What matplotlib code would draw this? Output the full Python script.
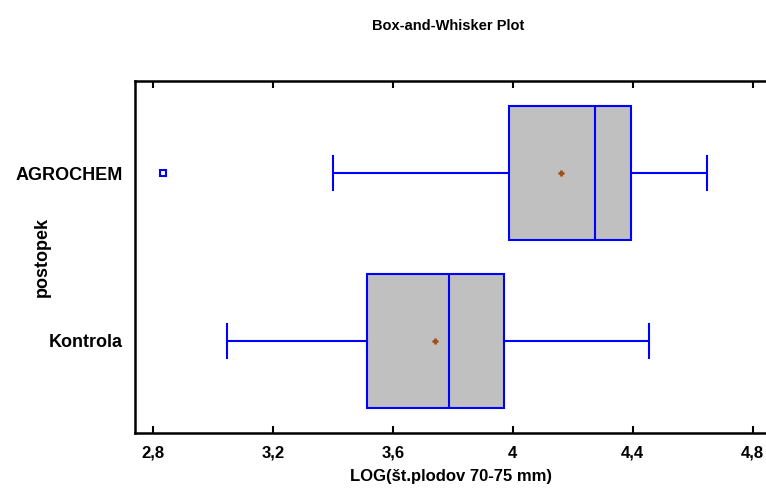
import matplotlib
matplotlib.use("Agg")
import matplotlib.pyplot as plt

plt.rcParams['font.family'] = ['Liberation Sans', 'DejaVu Sans']

# data (bottom to top)
groups = ["Kontrola", "AGROCHEM"]
whislo = [3.047, 3.400]
q1 = [3.513, 3.988]
med = [3.788, 4.274]
q3 = [3.971, 4.394]
whishi = [4.453, 4.647]
means = [3.741, 4.160]
outliers = [[], [2.834]]
xticks = [2.8, 3.2, 3.6, 4.0, 4.4, 4.8]
xtick_labels = ["2,8", "3,2", "3,6", "4", "4,4", "4,8"]

stats = []
for i, g in enumerate(groups):
    stats.append({"label": g, "whislo": whislo[i], "q1": q1[i], "med": med[i],
                  "q3": q3[i], "whishi": whishi[i], "mean": means[i],
                  "fliers": outliers[i]})

fig = plt.figure(figsize=(7.66, 4.92), dpi=100)
ax = fig.add_axes([135 / 766, 59 / 492, 1 - 135 / 766, 352 / 492])

blue = "#0000ff"
lw = 1.5
ax.bxp(stats, positions=[1, 2], widths=0.8, orientation="horizontal",
       patch_artist=True, showmeans=True, showfliers=True,
       boxprops=dict(facecolor="#c0c0c0", edgecolor=blue, linewidth=lw),
       medianprops=dict(color=blue, linewidth=lw),
       whiskerprops=dict(color=blue, linewidth=lw),
       capprops=dict(color=blue, linewidth=lw),
       capwidths=0.2,
       meanprops=dict(marker="+", markeredgecolor="#a0501e", markersize=5,
                      markeredgewidth=2),
       flierprops=dict(marker="s", markerfacecolor="white",
                       markeredgecolor=blue, markersize=4, markeredgewidth=1.5))

ax.set_xlim(2.741, 4.844)
ax.set_ylim(0.45, 2.55)
ax.set_xticks(xticks)
ax.set_xticklabels(xtick_labels, fontsize=12, fontweight="bold")
ax.set_yticks([1, 2])
ax.set_yticklabels(groups, fontsize=13, fontweight="bold")
ax.tick_params(axis="x", direction="in", top=True, length=5, width=1.5, pad=9)
ax.tick_params(axis="y", length=0, pad=9)

for s in ["left", "top", "bottom"]:
    ax.spines[s].set_linewidth(1.8)
ax.spines["right"].set_visible(False)

ax.set_xlabel("LOG(št.plodov 70-75 mm)", fontsize=12, fontweight="bold", labelpad=6)
ax.set_ylabel("postopek", fontsize=13, fontweight="bold")
ax.yaxis.set_label_coords(-0.133, 0.5)
fig.text(0.585, 0.948, "Box-and-Whisker Plot", ha="center", va="center",
         fontsize=10.5, fontweight="bold")

fig.savefig("out.png", dpi=100)
